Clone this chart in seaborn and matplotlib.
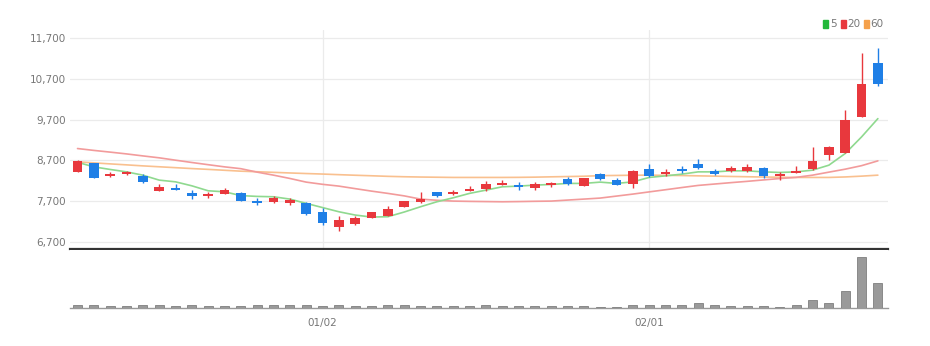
import matplotlib
matplotlib.use("Agg")
import matplotlib.pyplot as plt
import seaborn as sns
import numpy as np
import pandas as pd

# ---------------- data ----------------
dates_ticks = {15: "01/02", 35: "02/01"}

open_ = [8408, 8621, 8310, 8351, 8310, 7942, 8023, 7900, 7820, 7876,
         7886, 7697, 7665, 7641, 7641, 7435, 7053, 7126, 7288, 7330,
         7558, 7680, 7910, 7876, 7950, 7991, 8097, 8082, 8008, 8082,
         8229, 8065, 8359, 8212, 8114, 8488, 8366, 8488, 8604, 8440,
         8440, 8432, 8498, 8317, 8383, 8481, 8841, 8890, 9763, 11085]
close = [8677, 8268, 8371, 8408, 8155, 8040, 7966, 7820, 7876, 7966,
         7705, 7660, 7778, 7722, 7379, 7151, 7232, 7273, 7420, 7494,
         7697, 7754, 7827, 7918, 7999, 8121, 8146, 8040, 8121, 8146,
         8106, 8268, 8229, 8089, 8440, 8310, 8415, 8440, 8498, 8359,
         8498, 8538, 8310, 8359, 8440, 8689, 9027, 9682, 10564, 10580]
high = [8700, 8630, 8420, 8444, 8351, 8114, 8121, 7966, 7925, 8023,
        7925, 7763, 7827, 7763, 7680, 7533, 7330, 7330, 7430, 7575,
        7710, 7910, 7925, 7959, 8065, 8180, 8212, 8155, 8170, 8170,
        8278, 8275, 8375, 8268, 8450, 8604, 8481, 8562, 8719, 8481,
        8555, 8604, 8530, 8415, 8567, 9027, 9045, 9927, 11330, 11453]
low = [8400, 8260, 8297, 8340, 8150, 7935, 7960, 7746, 7770, 7870,
       7690, 7600, 7655, 7600, 7355, 7110, 6962, 7120, 7280, 7320,
       7550, 7641, 7788, 7837, 7940, 7935, 8090, 7966, 7966, 8047,
       8100, 8060, 8225, 8085, 8008, 8300, 8317, 8376, 8490, 8334,
       8408, 8408, 8273, 8212, 8375, 8470, 8702, 8885, 9755, 10515]

ma5 = [8650, 8538, 8474, 8415, 8334, 8212, 8170, 8072, 7950, 7925,
       7832, 7812, 7803, 7746, 7641, 7538, 7435, 7354, 7305, 7313,
       7428, 7558, 7680, 7778, 7886, 7966, 8048, 8065, 8089, 8106,
       8131, 8131, 8163, 8131, 8170, 8278, 8317, 8359, 8415, 8415,
       8440, 8440, 8415, 8400, 8415, 8457, 8579, 8866, 9273, 9723]
ma20 = [8988, 8942, 8900, 8856, 8807, 8760, 8702, 8645, 8591, 8538,
        8493, 8408, 8334, 8253, 8163, 8109, 8065, 8003, 7942, 7886,
        7825, 7746, 7717, 7697, 7690, 7685, 7680, 7685, 7692, 7697,
        7722, 7746, 7771, 7820, 7869, 7923, 7976, 8030, 8082, 8116,
        8150, 8182, 8217, 8251, 8280, 8334, 8408, 8481, 8567, 8685]
ma60 = [8660, 8636, 8611, 8587, 8562, 8540, 8518, 8496, 8476, 8454,
        8432, 8418, 8403, 8388, 8374, 8361, 8346, 8332, 8319, 8305,
        8295, 8288, 8283, 8278, 8278, 8278, 8278, 8280, 8285, 8293,
        8300, 8307, 8322, 8327, 8332, 8334, 8329, 8325, 8317, 8310,
        8302, 8295, 8288, 8283, 8278, 8278, 8278, 8290, 8310, 8334]

volume = [80, 100, 50, 50, 80, 90, 50, 80, 50, 50,
          70, 80, 80, 80, 80, 70, 90, 50, 70, 90,
          80, 70, 70, 50, 50, 80, 70, 70, 50, 50,
          50, 50, 40, 40, 90, 80, 80, 80, 150, 80,
          70, 70, 70, 40, 80, 230, 150, 500, 1550, 750]

price_ticks = [6700, 7700, 8700, 9700, 10700, 11700]

# ---------------- style ----------------
sns.set_style("white")
plt.rcParams['font.family'] = ['Liberation Sans Narrow', 'DejaVu Sans']

RED = "#e8383d"
BLUE = "#1f7fe6"
G5 = "#8fd98f"
R20 = "#f29b9b"
O60 = "#f9c08f"
TXT = "#777777"

n = len(close)
idx = np.arange(n)
df = pd.DataFrame({"i": idx, "open": open_, "close": close, "high": high,
                   "low": low, "ma5": ma5, "ma20": ma20, "ma60": ma60,
                   "vol": volume})

fig = plt.figure(figsize=(9.3, 3.46), dpi=100)
axp = fig.add_axes([70/930, 97/346, 818/930, 219/346])
axv = fig.add_axes([70/930, 38/346, 818/930, 58/346])

xlim = (-0.46, n - 1 + 0.62)

# ---- price pane ----
axp.set_xlim(*xlim)
axp.set_ylim(6520, 11900)
for t in price_ticks:
    axp.axhline(t, color="#ebebeb", lw=0.9, zorder=0)
for k in dates_ticks:
    axp.axvline(k, color="#ebebeb", lw=0.9, zorder=0)

sns.lineplot(data=df, x="i", y="ma60", ax=axp, color=O60, lw=1.2, zorder=2)
sns.lineplot(data=df, x="i", y="ma20", ax=axp, color=R20, lw=1.2, zorder=2)
sns.lineplot(data=df, x="i", y="ma5", ax=axp, color=G5, lw=1.2, zorder=2)

colors = [RED if c >= o else BLUE for o, c in zip(open_, close)]
bottoms = [min(o, c) for o, c in zip(open_, close)]
heights = [max(abs(c - o), 30) for o, c in zip(open_, close)]
axp.vlines(idx, low, high, colors=colors, lw=1.0, zorder=3)
axp.bar(idx, heights, bottom=bottoms, width=0.58, color=colors, zorder=4,
        linewidth=0)

axp.set_yticks(price_ticks)
axp.set_yticklabels([f"{t:,}" for t in price_ticks])
axp.tick_params(axis="y", length=0, labelsize=7.5, labelcolor=TXT, pad=3)
axp.set_xticks([])
axp.set_xlabel("")
axp.set_ylabel("")
axp.set_xlim(*xlim)
axp.set_ylim(6520, 11900)
for s in ["top", "right", "left"]:
    axp.spines[s].set_visible(False)
axp.spines["bottom"].set_color("#333333")
axp.spines["bottom"].set_linewidth(1.6)

# legend (top-right)
from matplotlib.patches import Patch
handles = [Patch(color="#22b83a", label="5"),
           Patch(color="#e8383d", label="20"),
           Patch(color="#f5a04a", label="60")]
leg = fig.legend(handles=handles, loc="upper right",
                 bbox_to_anchor=(888/930, 1 - 15/346), ncol=3, frameon=False,
                 fontsize=7.5, handlelength=0.5, handleheight=0.8,
                 handletextpad=0.12, columnspacing=0.4, borderaxespad=0)
for t in leg.get_texts():
    t.set_color(TXT)

# ---- volume pane ----
axv.bar(idx, volume, width=0.55, color="#9a9a9a", edgecolor="#7f7f7f",
        linewidth=0.6, zorder=3)
axv.set_xlim(*xlim)
axv.set_ylim(0, 1750)
axv.set_yticks([])
axv.set_xticks(list(dates_ticks.keys()))
axv.set_xticklabels(list(dates_ticks.values()))
axv.tick_params(axis="x", length=4, width=0.8, color="#444444",
                labelsize=7.5, labelcolor=TXT, pad=3)
for s in ["top", "right", "left"]:
    axv.spines[s].set_visible(False)
axv.spines["bottom"].set_color("#999999")
axv.spines["bottom"].set_linewidth(1.0)

fig.savefig("out.png", dpi=100)
